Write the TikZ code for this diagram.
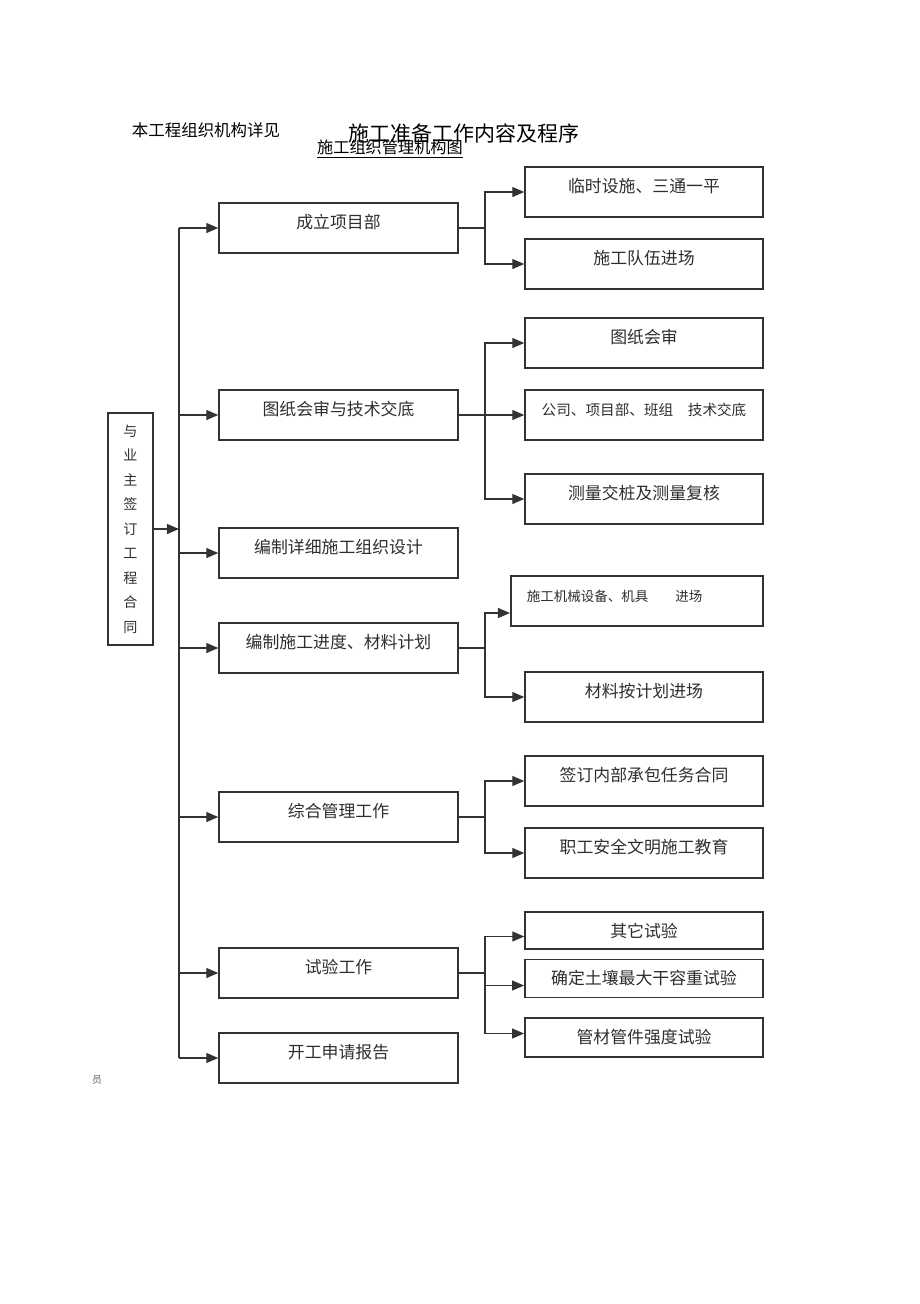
\documentclass[tikz,border=0pt]{standalone}
\usepackage{fontspec}
\setmainfont{Noto Sans CJK SC}
\usepackage{xcolor}
\usetikzlibrary{
    arrows.meta,
    positioning,
    calc
}
\definecolor{boxline}{HTML}{333333}
\definecolor{boxtext}{HTML}{2E2E2E}
\tikzset{
    % Step box in the middle column
    stepbox/.style={
        rectangle,
        draw=boxline,
        line width=1pt,
        minimum width=5.975cm,
        minimum height=1.25cm,
        align=center,
        text=boxtext,
        font=\fontsize{12}{14}\selectfont,
        text height=0.5em,
        text depth=0.5em
    },
    % Task box in the right column
    taskbox/.style={
        stepbox,
        minimum width=5.95cm
    },
    % Short task box, text centred
    testbox/.style={
        rectangle,
        draw=boxline,
        line width=1pt,
        minimum width=5.95cm,
        align=center,
        text=boxtext,
        font=\fontsize{12}{14}\selectfont
    },
    % Contract box on the left
    startbox/.style={
        rectangle,
        draw=boxline,
        line width=1pt,
        minimum width=1.125cm,
        minimum height=5.8cm,
        align=center,
        text=boxtext,
        font=\fontsize{10}{17.4}\selectfont
    },
    % Arrow styles
    flow/.style={
        -{Triangle[length=3mm, width=2.5mm]},
        line width=0.9pt,
        color=boxline
    },
    link/.style={
        line width=0.9pt,
        color=boxline
    }
}
\begin{document}
\begin{tikzpicture}[x=0.025cm, y=-0.025cm]
        \useasboundingbox (0,0) rectangle (920,1304);

        % Titles
        \node[anchor=west, font=\fontsize{11.7}{14}\selectfont] (ref) at (127,130) {本工程组织机构详见};
        \node[font=\fontsize{14.9}{17}\selectfont] (title) at (464,133) {施工准备工作内容及程序};
        \node[font=\fontsize{11.5}{14}\selectfont] (subtitle) at (390,149) {\underline{施工组织管理机构图}};
        \node[font=\fontsize{7}{8}\selectfont, text=black!60] (stray) at (97,1080) {员};

        % Contract
        \node[startbox] (sign) at (130.5,529) {与\\业\\主\\签\\订\\工\\程\\合\\同};

        % Steps
        \node[stepbox] (setup) at (338.5,228) {成立项目部};
        \node[stepbox] (drawing) at (338.5,415) {图纸会审与技术交底};
        \node[stepbox] (design) at (338.5,553) {编制详细施工组织设计};
        \node[stepbox] (plan) at (338.5,648) {编制施工进度、材料计划};
        \node[stepbox] (manage) at (338.5,817) {综合管理工作};
        \node[stepbox] (test) at (338.5,973) {试验工作};
        \node[stepbox] (apply) at (338.5,1058) {开工申请报告};

        % Tasks
        \node[taskbox] (temp) at (644,192) {临时设施、三通一平};
        \node[taskbox] (team) at (644,264) {施工队伍进场};
        \node[taskbox] (review) at (644,343) {图纸会审};
        \node[taskbox, font=\fontsize{10.4}{12}\selectfont] (disclose) at (644,415) {公司、项目部、班组　技术交底};
        \node[taskbox] (survey) at (644,499) {测量交桩及测量复核};
        \node[taskbox, minimum width=6.3cm, line width=1.4pt, align=left, text width=5.5cm, inner xsep=0.4cm,
              font=\fontsize{9.6}{12}\selectfont] (machine) at (637,601) {施工机械设备、机具　　进场};
        \node[taskbox] (material) at (644,697) {材料按计划进场};
        \node[taskbox] (contract) at (644,781) {签订内部承包任务合同};
        \node[taskbox] (safety) at (644,853) {职工安全文明施工教育};
        \node[testbox, minimum height=0.925cm] (othertest) at (644,930.5) {其它试验};
        \node[testbox, minimum height=0.95cm, line width=1.3pt] (soiltest) at (644,978.5) {确定土壤最大干容重试验};
        \node[testbox, minimum height=0.975cm, line width=1.3pt] (pipetest) at (644,1037.5) {管材管件强度试验};

        % Trunk and forks
        \coordinate (trunk) at (179,0);
        \coordinate (fork) at (485,0);

        \draw[link] (setup.west -| trunk) -- (apply.west -| trunk);
        \draw[flow] (sign.east) -- (sign.east -| trunk);
        \foreach \step in {setup,drawing,design,plan,manage,test,apply}
            \draw[flow] (\step.west -| trunk) -- (\step.west);

        % Branches
        \draw[link] (setup.east) -- (setup.east -| fork);
        \draw[flow] (setup.east -| fork) |- (temp.west);
        \draw[flow] (setup.east -| fork) |- (team.west);

        \draw[flow] (drawing.east) -- (disclose.west);
        \draw[flow] (drawing.east -| fork) |- (review.west);
        \draw[flow] (drawing.east -| fork) |- (survey.west);

        \draw[link] (plan.east) -- (plan.east -| fork);
        \draw[flow] (plan.east -| fork) |- ([yshift=-0.3cm]machine.west);
        \draw[flow] (plan.east -| fork) |- (material.west);

        \draw[link] (manage.east) -- (manage.east -| fork);
        \draw[flow] (manage.east -| fork) |- (contract.west);
        \draw[flow] (manage.east -| fork) |- (safety.west);

        \draw[link] (test.east) -- (test.east -| fork);
        \draw[flow] (test.east -| fork) |- ([yshift=-0.15cm]othertest.west);
        \draw[flow] (test.east -| fork) |- ([yshift=-0.175cm]soiltest.west);
        \draw[flow] (test.east -| fork) |- ([yshift=0.1cm]pipetest.west);

    \end{tikzpicture}
\end{document}
